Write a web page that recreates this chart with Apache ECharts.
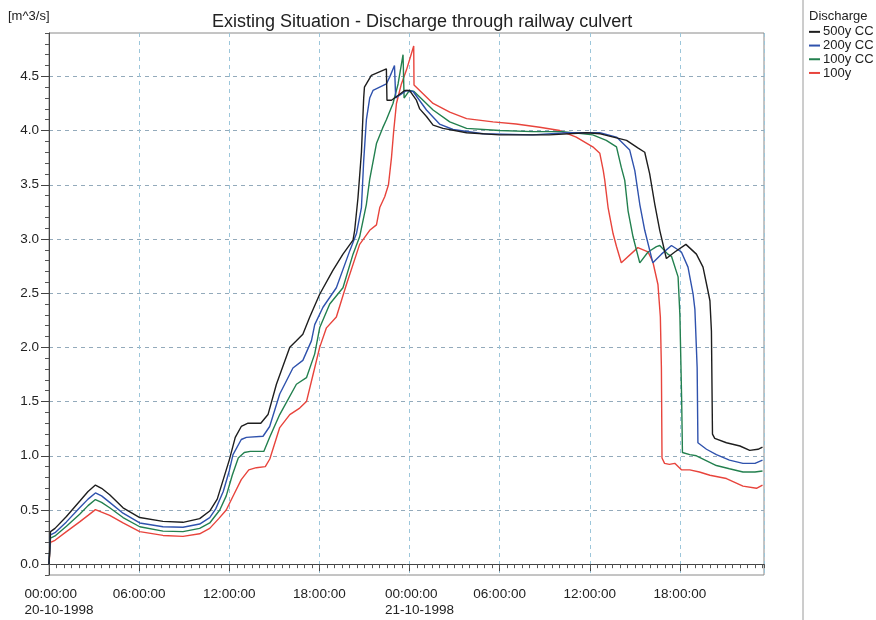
<!DOCTYPE html>
<html>
<head>
<meta charset="utf-8">
<script src="https://cdn.jsdelivr.net/npm/echarts@6/dist/echarts.min.js"></script>
<style>
  html, body { margin: 0; padding: 0; background: #fff; }
  #chart { width: 876px; height: 620px; }
</style>
</head>
<body>
<div id="chart"></div>
<script>
// hours since 20-10-1998 00:00, discharge in m^3/s
var q500cc = [[0,0],[0.1,0.3],[0.4,0.33],[1.16,0.44],[2.04,0.58],[2.6,0.67],[3.09,0.73],[3.5,0.70],[4.04,0.64],[4.93,0.52],[6.04,0.43],[7.59,0.395],[8.92,0.386],[10.03,0.42],[10.7,0.49],[11.2,0.6],[11.6,0.78],[12.0,0.96],[12.4,1.17],[12.8,1.27],[13.25,1.30],[14.1,1.30],[14.58,1.38],[15.14,1.66],[16.03,2.0],[16.47,2.06],[16.9,2.12],[17.36,2.28],[18.02,2.49],[18.9,2.71],[19.57,2.86],[20.24,2.99],[20.35,3.08],[20.57,3.38],[20.8,3.8],[20.95,4.3],[21.0,4.40],[21.46,4.51],[22.46,4.57],[22.5,4.28],[22.8,4.28],[23.68,4.37],[24.0,4.37],[24.46,4.28],[24.68,4.2],[25.13,4.13],[25.57,4.05],[26.23,4.02],[27.8,3.98],[30,3.96],[33.3,3.96],[35.8,3.98],[36.7,3.97],[38.45,3.91],[39.2,3.84],[39.66,3.80],[39.99,3.60],[40.33,3.32],[40.66,3.08],[41.1,2.82],[41.66,2.88],[42.4,2.95],[43.1,2.86],[43.54,2.74],[43.87,2.52],[44.0,2.43],[44.1,2.15],[44.17,1.20],[44.32,1.16],[45.1,1.12],[46.0,1.09],[46.65,1.05],[47.2,1.06],[47.5,1.08]];
var q200cc = [[0,0],[0.1,0.27],[0.4,0.29],[1.16,0.39],[2.04,0.52],[2.6,0.6],[3.09,0.657],[3.5,0.63],[4.04,0.57],[4.93,0.47],[6.04,0.38],[7.59,0.345],[8.92,0.34],[10.03,0.37],[10.7,0.43],[11.1,0.51],[11.6,0.67],[12.0,0.86],[12.25,1.01],[12.8,1.15],[13.14,1.17],[14.25,1.18],[14.69,1.27],[15.36,1.57],[16.24,1.81],[16.9,1.88],[17.47,2.06],[17.69,2.21],[18.24,2.37],[19.13,2.55],[20.02,2.89],[20.47,3.05],[20.8,3.29],[20.95,3.72],[21.13,4.10],[21.35,4.3],[21.57,4.37],[22.46,4.43],[22.7,4.5],[23.0,4.6],[23.08,4.3],[23.8,4.37],[24.24,4.36],[25.13,4.19],[26.0,4.06],[26.9,4.01],[28.9,3.97],[32.2,3.96],[34.45,3.98],[36.67,3.98],[37.78,3.94],[38.66,3.82],[39.0,3.63],[39.33,3.32],[39.66,3.08],[40.2,2.78],[40.77,2.86],[41.44,2.94],[42.1,2.88],[42.54,2.74],[42.88,2.49],[43.0,2.35],[43.15,1.81],[43.2,1.12],[43.77,1.06],[44.43,1.01],[45.3,0.96],[46.2,0.93],[47.0,0.93],[47.5,0.96]];
var q100cc = [[0,0],[0.1,0.24],[0.4,0.26],[1.16,0.35],[2.04,0.46],[2.6,0.54],[3.09,0.596],[3.5,0.57],[4.04,0.52],[4.93,0.43],[6.04,0.345],[7.59,0.305],[8.92,0.30],[10.03,0.33],[10.7,0.38],[11.37,0.5],[11.8,0.63],[12.2,0.82],[12.6,0.98],[13.0,1.03],[13.4,1.04],[14.3,1.04],[14.69,1.17],[15.36,1.38],[16.47,1.66],[17.14,1.72],[17.69,1.94],[18.02,2.18],[18.69,2.40],[19.57,2.55],[20.24,2.86],[20.68,3.02],[21.13,3.32],[21.35,3.55],[21.8,3.88],[22.2,4.02],[22.46,4.10],[22.9,4.25],[23.24,4.43],[23.57,4.70],[23.64,4.30],[24.0,4.37],[24.3,4.36],[25.57,4.19],[26.68,4.08],[27.8,4.02],[30.0,4.0],[32.2,3.99],[34.2,3.99],[36.2,3.96],[37.1,3.91],[37.78,3.85],[38.1,3.66],[38.33,3.54],[38.55,3.26],[38.88,3.02],[39.33,2.78],[39.88,2.88],[40.44,2.93],[40.66,2.94],[41.2,2.86],[41.44,2.84],[41.88,2.65],[42.0,2.3],[42.12,1.5],[42.17,1.03],[42.66,1.01],[43.1,1.0],[44.43,0.91],[45.3,0.88],[46.2,0.85],[47.0,0.85],[47.5,0.86]];
var q100 = [[0,0],[0.1,0.2],[0.4,0.22],[1.16,0.30],[2.04,0.39],[2.6,0.45],[3.09,0.503],[3.5,0.48],[4.04,0.45],[4.93,0.38],[6.04,0.30],[7.59,0.265],[8.92,0.256],[10.03,0.28],[10.7,0.33],[11.3,0.42],[11.8,0.5],[12.3,0.64],[12.8,0.78],[13.3,0.87],[13.8,0.89],[14.4,0.9],[14.7,0.97],[15.36,1.26],[16.03,1.38],[16.69,1.44],[17.14,1.50],[17.58,1.75],[18.02,2.0],[18.47,2.18],[19.13,2.28],[19.8,2.58],[20.68,2.95],[21.35,3.08],[21.8,3.13],[22.02,3.29],[22.35,3.39],[22.6,3.5],[22.8,3.75],[22.95,4.0],[23.13,4.25],[23.46,4.43],[23.8,4.56],[24.28,4.78],[24.3,4.42],[25.57,4.25],[26.68,4.17],[27.8,4.11],[29.56,4.08],[31.1,4.06],[32.67,4.03],[34.0,4.0],[35.1,3.94],[36.2,3.85],[36.67,3.79],[36.9,3.63],[37.0,3.54],[37.22,3.29],[37.55,3.05],[37.78,2.93],[38.1,2.78],[39.2,2.92],[39.88,2.88],[40.2,2.79],[40.54,2.58],[40.7,2.28],[40.77,1.81],[40.81,0.98],[40.98,0.93],[41.3,0.92],[41.66,0.93],[42.1,0.87],[42.66,0.87],[43.3,0.85],[44.0,0.82],[45.1,0.79],[46.2,0.72],[47.1,0.70],[47.5,0.73]];

var seriesNames = ['500y CC', '200y CC', '100y CC', '100y'];
var seriesColors = ['#1e1e1e', '#2f52ad', '#23804f', '#e8443c'];
var yLabels = [0, 0.5, 1, 1.5, 2, 2.5, 3, 3.5, 4, 4.5];
var dayLabels = ['20-10-1998', '21-10-1998'];

var font = 'Liberation Sans, Arial, sans-serif';
var chart = echarts.init(document.getElementById('chart'));

function hourLabel(v) {
	if (Math.abs(v % 6) > 1e-6) return '';
	var hh = Math.round(v) % 24;
	var t = (hh < 10 ? '0' : '') + hh + ':00:00';
	if (hh === 0) {
		var d = dayLabels[Math.round(v) / 24];
		return '{s|}{d|' + t + '}\n{s|}{d|' + d + '}';
	}
	return t;
}

var allData = [q500cc, q200cc, q100cc, q100];
var series = [];
for (var i = 0; i < allData.length; i++) {
	series.push({
		name: seriesNames[i],
		type: 'line',
		data: allData[i],
		showSymbol: false,
		symbol: 'none',
		lineStyle: {color: seriesColors[i], width: 1.4},
		itemStyle: {color: seriesColors[i]},
		z: 10 - i
	});
}

var option = {
	animation: false,
	backgroundColor: '#fff',
	textStyle: {fontFamily: font},
	grid: {left: 49, right: 112, top: 33, bottom: 45, show: true, borderColor: '#8a8a8a', borderWidth: 1},
	legend: {
		orient: 'vertical', left: 809, top: 25, padding: 0, itemGap: 0,
		itemWidth: 11, itemHeight: 2, icon: 'rect',
		textStyle: {fontSize: 13, lineHeight: 13.7, color: '#222', fontFamily: font, padding: [0,0,0,-2]},
		data: seriesNames
	},
	xAxis: [{
		type: 'value', position: 'bottom', min: 0, max: 47.6, interval: 6,
		axisLine: {lineStyle: {color: '#444'}},
		axisTick: {length: 7, lineStyle: {color: '#444'}},
		axisLabel: {
			formatter: hourLabel, showMaxLabel: false, margin: 11,
			fontSize: 13.5, lineHeight: 16, color: '#222', fontFamily: font,
			rich: {
				s: {width: 20, align: 'left', fontSize: 13.5, lineHeight: 16},
				d: {align: 'left', fontSize: 13.5, lineHeight: 16, color: '#222', fontFamily: font}
			}
		},
		splitLine: {show: true, lineStyle: {color: '#9cc6da', type: [4, 4], width: 1}}
	}, {
		type: 'value', position: 'bottom', min: 0, max: 47.6, interval: 0.5,
		axisLine: {show: false},
		axisTick: {length: 4, lineStyle: {color: '#555'}},
		axisLabel: {show: false},
		splitLine: {show: false}
	}],
	yAxis: [{
		type: 'value', position: 'left', min: -0.1, max: 4.9, interval: 0.1,
		axisLine: {show: true, lineStyle: {color: '#444'}},
		axisTick: {length: 4, lineStyle: {color: '#555'}},
		axisLabel: {show: false},
		splitLine: {show: false}
	}, {
		type: 'value', position: 'left', min: -0.1, max: 4.9,
		axisLine: {show: false},
		axisTick: {show: true, length: 8, customValues: yLabels, lineStyle: {color: '#444'}},
		axisLabel: {
			customValues: yLabels, margin: 10, fontSize: 13.5, color: '#222', fontFamily: font,
			formatter: function (v) { return v.toFixed(1); }
		},
		splitLine: {show: true, lineStyle: {color: '#93aabb', type: [4, 4], width: 1}}
	}],
	graphic: [
		{type: 'text', left: 212, top: 13, style: {text: 'Existing Situation - Discharge through railway culvert', font: '18px ' + font, fill: '#222'}},
		{type: 'text', left: 8, top: 10, style: {text: '[m^3/s]', font: '13px ' + font, fill: '#222'}},
		{type: 'text', left: 809, top: 10, style: {text: 'Discharge', font: '13px ' + font, fill: '#222'}},
		{type: 'line', shape: {x1: 803, y1: 0, x2: 803, y2: 620}, style: {stroke: '#9a9a9a', lineWidth: 1}}
	],
	series: series
};
chart.setOption(option);
</script>
</body>
</html>
